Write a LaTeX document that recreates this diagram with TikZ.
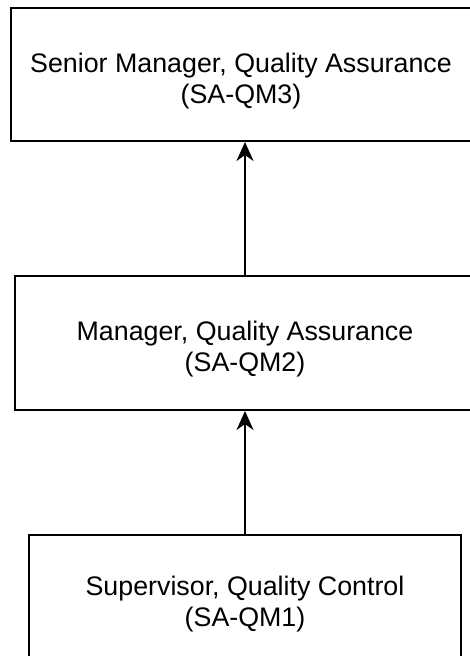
\documentclass[tikz,border=0pt]{standalone}
\usepackage{fontspec}
\setmainfont{Liberation Sans}
\usetikzlibrary{arrows.meta}
\begin{document}
\begin{tikzpicture}[x=1pt,y=-1pt,
  box/.style={draw=black, line width=2pt, fill=white, inner sep=0pt},
  lbl/.style={align=center, inner sep=0pt, font=\fontsize{26.8}{31}\selectfont},
  conn/.style={line width=2pt, -{Stealth[length=19pt,width=17pt,inset=6pt]}}]
\useasboundingbox (0,0) rectangle (470,656);
\clip (0,0) rectangle (470,656);
\fill[white] (0,0) rectangle (470,656);
\node[box, minimum width=468pt, minimum height=133pt] (sm) at (245,74.5) {};
\node[lbl] (smt) at (241,81) {Senior Manager, Quality Assurance\\(SA-QM3)};
\node[box, minimum width=460pt, minimum height=134pt] (m) at (245,343) {};
\node[lbl] (mt) at (245,349) {Manager, Quality Assurance\\(SA-QM2)};
\node[box, minimum width=432pt, minimum height=133pt] (s) at (245,601.5) {};
\node[lbl] (st) at (245,604) {Supervisor, Quality Control\\(SA-QM1)};
\draw[conn] (m.north) -- (sm.south);
\draw[conn] (s.north) -- (m.south);
\end{tikzpicture}
\end{document}
